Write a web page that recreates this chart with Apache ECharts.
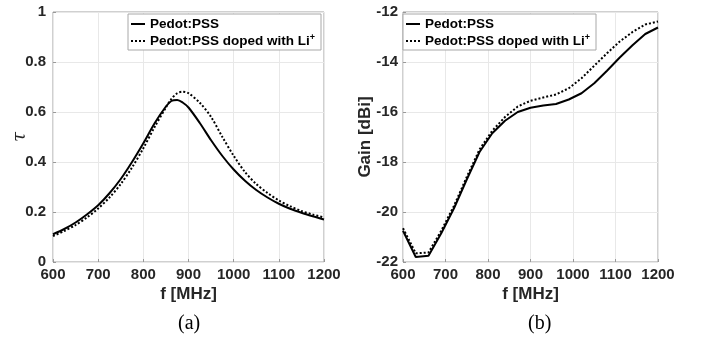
<!DOCTYPE html>
<html><head><meta charset="utf-8">
<script src="https://cdn.jsdelivr.net/npm/echarts@6/dist/echarts.min.js"></script>
<style>html,body{margin:0;padding:0;background:#fff}#c{width:701px;height:337px}</style>
</head><body><div id="c"></div>
<script>
// (a) transmission coefficient tau vs frequency
const freqA = [600,625,650,675,700,725,750,775,800,825,850,862,875,887,900,925,950,975,1000,1025,1050,1075,1100,1125,1150,1175,1200];
const tauPedot = [0.111,0.132,0.158,0.190,0.227,0.275,0.332,0.400,0.475,0.555,0.622,0.644,0.648,0.638,0.618,0.556,0.487,0.424,0.370,0.325,0.288,0.258,0.233,0.213,0.197,0.183,0.170];
const tauLi    = [0.104,0.124,0.148,0.178,0.214,0.258,0.312,0.378,0.455,0.540,0.618,0.652,0.675,0.681,0.675,0.637,0.580,0.500,0.425,0.360,0.312,0.276,0.246,0.223,0.204,0.190,0.178];
// (b) gain vs frequency
const freqB = [600,630,660,690,720,750,780,810,840,870,900,930,960,990,1020,1050,1080,1110,1140,1170,1200];
const gainPedot = [-20.75,-21.8,-21.75,-20.85,-19.85,-18.7,-17.6,-16.85,-16.35,-16.0,-15.83,-15.74,-15.68,-15.5,-15.25,-14.85,-14.35,-13.82,-13.33,-12.88,-12.62];
const gainLi    = [-20.65,-21.65,-21.62,-20.75,-19.75,-18.6,-17.5,-16.75,-16.2,-15.78,-15.55,-15.42,-15.3,-15.05,-14.65,-14.15,-13.65,-13.18,-12.8,-12.5,-12.38];
const xTitle = 'f [MHz]';
const names = ['Pedot:PSS', 'Pedot:PSS doped with Li+'];

const FONT = 'Liberation Sans, Arial, sans-serif';
const pair = (xs, ys) => xs.map((x, i) => [x, ys[i]]);

const axisCommon = {
  axisLine: { show: false },
  axisTick: { show: true, inside: true, length: 3, lineStyle: { color: '#999' } },
  splitLine: { show: true, lineStyle: { color: '#e8e8e8', width: 1 } },
  axisLabel: { color: '#262626', fontFamily: FONT, fontWeight: 'bold', fontSize: 15, formatter: v => String(v) }
};

const legendCommon = {
  orient: 'vertical',
  itemWidth: 14,
  itemHeight: 8,
  itemGap: 2,
  borderColor: '#a8a8a8',
  borderWidth: 1,
  backgroundColor: '#fff',
  padding: [3, 6, 2, 2],
  itemStyle: { opacity: 0 },
  data: names,
  formatter: n => n === names[1] ? '{t|Pedot:PSS doped with Li}{s|+}' : '{t|' + n + '}',
  textStyle: {
    rich: {
      t: { fontSize: 13.5, fontWeight: 'bold', fontFamily: FONT, color: '#000', lineHeight: 16 },
      s: { fontSize: 9, fontWeight: 'bold', fontFamily: FONT, color: '#000', verticalAlign: 'top', lineHeight: 9 }
    }
  }
};

const chart = echarts.init(document.getElementById('c'), null, { renderer: 'canvas' });
chart.setOption({
  animation: false,
  backgroundColor: '#fff',
  grid: [
    { left: 53, top: 12, width: 271, height: 250, show: true, borderColor: '#a0a0a0', borderWidth: 1, backgroundColor: 'transparent' },
    { left: 403, top: 12, width: 255, height: 250, show: true, borderColor: '#a0a0a0', borderWidth: 1, backgroundColor: 'transparent' }
  ],
  legend: [
    Object.assign({ left: 128, top: 14 }, legendCommon),
    Object.assign({ left: 403, top: 14 }, legendCommon)
  ],
  xAxis: [0, 1].map(i => Object.assign({}, axisCommon, {
    type: 'value', gridIndex: i, min: 600, max: 1200, interval: 100,
    name: xTitle, nameLocation: 'middle', nameGap: 24, nameMoveOverlap: false,
    nameTextStyle: { fontFamily: FONT, fontWeight: 'bold', fontSize: 17, color: '#262626' },
    axisLabel: Object.assign({}, axisCommon.axisLabel, { margin: 5 })
  })),
  yAxis: [
    Object.assign({}, axisCommon, {
      type: 'value', gridIndex: 0, min: 0, max: 1, interval: 0.2,
      name: 'τ', nameLocation: 'middle', nameGap: 24, nameMoveOverlap: false,
      nameTextStyle: { fontFamily: 'DejaVu Serif, serif', fontStyle: 'italic', fontSize: 18, color: '#262626' },
      axisLabel: Object.assign({}, axisCommon.axisLabel, { margin: 7, formatter: v => String(Math.round(v * 10) / 10) })
    }),
    Object.assign({}, axisCommon, {
      type: 'value', gridIndex: 1, min: -22, max: -12, interval: 2,
      name: 'Gain [dBi]', nameLocation: 'middle', nameGap: 29, nameMoveOverlap: false,
      nameTextStyle: { fontFamily: FONT, fontWeight: 'bold', fontSize: 17, color: '#262626' },
      axisLabel: Object.assign({}, axisCommon.axisLabel, { margin: 5 })
    })
  ],
  series: [
    { name: names[0], type: 'line', xAxisIndex: 0, yAxisIndex: 0, data: pair(freqA, tauPedot), smooth: 0.3, symbol: 'none', lineStyle: { color: '#000', width: 2, type: 'solid' }, itemStyle: { color: '#000' } },
    { name: names[1], type: 'line', xAxisIndex: 0, yAxisIndex: 0, data: pair(freqA, tauLi), smooth: 0.3, symbol: 'none', lineStyle: { color: '#000', width: 2, type: [2, 2] }, itemStyle: { color: '#000' } },
    { name: names[0], type: 'line', xAxisIndex: 1, yAxisIndex: 1, data: pair(freqB, gainPedot), smooth: false, symbol: 'none', lineStyle: { color: '#000', width: 2, type: 'solid' }, itemStyle: { color: '#000' } },
    { name: names[1], type: 'line', xAxisIndex: 1, yAxisIndex: 1, data: pair(freqB, gainLi), smooth: false, symbol: 'none', lineStyle: { color: '#000', width: 2, type: [2, 2] }, itemStyle: { color: '#000' } }
  ],
  graphic: [
    { type: 'text', left: 178, top: 314, style: { text: '(a)', font: '20px "Liberation Serif", "Times New Roman", serif', fill: '#000' } },
    { type: 'text', left: 528, top: 314, style: { text: '(b)', font: '20px "Liberation Serif", "Times New Roman", serif', fill: '#000' } }
  ]
});
</script>
</body></html>
